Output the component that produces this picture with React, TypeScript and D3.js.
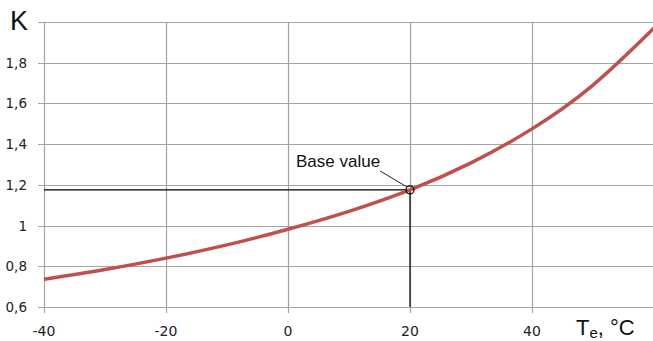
import React, { useEffect, useRef } from "react";
import * as d3 from "d3";

// curve K(Te)
const temps = [-40, -30, -20, -10, 0, 10, 20, 30, 40, 50, 60];
const kValues = [0.736, 0.784, 0.84, 0.905, 0.982, 1.07, 1.175, 1.308, 1.475, 1.69, 1.97];

const xTicks = [-40, -20, 0, 20, 40];
const yTicks = [0.6, 0.8, 1, 1.2, 1.4, 1.6, 1.8, 2];

const baseTemp = 20;
const baseK = 1.175;
const baseLabel = "Base value";

export default function App() {
  const svgRef = useRef<SVGSVGElement>(null);

  useEffect(() => {
    const svg = d3.select(svgRef.current);
    svg.selectAll("*").remove();

    const width = 653;
    const height = 341;
    const margin = { top: 22, right: 0, bottom: 34, left: 44 };

    const x = d3.scaleLinear().domain([-40, 60]).range([margin.left, 654]);
    const y = d3.scaleLinear().domain([0.6, 2]).range([height - margin.bottom, margin.top]);

    svg.attr("width", width).attr("height", height);
    svg.append("rect").attr("width", width).attr("height", height).attr("fill", "#fff");

    const gridColor = "#a3a3a3";
    const bottom = y(0.6);

    // horizontal grid + y tick marks
    svg
      .append("g")
      .selectAll("line")
      .data(yTicks)
      .enter()
      .append("line")
      .attr("x1", margin.left - 6)
      .attr("x2", width)
      .attr("y1", (d) => Math.round(y(d)) + 0.5)
      .attr("y2", (d) => Math.round(y(d)) + 0.5)
      .attr("stroke", gridColor)
      .attr("stroke-width", 1.2);

    // vertical grid + x tick marks
    svg
      .append("g")
      .selectAll("line")
      .data(xTicks)
      .enter()
      .append("line")
      .attr("x1", (d) => Math.round(x(d)) + 0.5)
      .attr("x2", (d) => Math.round(x(d)) + 0.5)
      .attr("y1", margin.top)
      .attr("y2", bottom + 6)
      .attr("stroke", gridColor)
      .attr("stroke-width", 1.2);

    // tick labels
    svg
      .append("g")
      .selectAll("text")
      .data(yTicks)
      .enter()
      .append("text")
      .attr("x", 27)
      .attr("y", (d) => y(d) + 5)
      .attr("text-anchor", "end")
      .attr("font-family", "DejaVu Sans, Verdana, sans-serif")
      .attr("font-size", 13.5)
      .attr("fill", "#222")
      .text((d) => (d === 2 ? "" : String(d).replace(".", ",")));

    svg
      .append("g")
      .selectAll("text")
      .data(xTicks)
      .enter()
      .append("text")
      .attr("x", (d) => x(d))
      .attr("y", 336)
      .attr("text-anchor", "middle")
      .attr("font-family", "DejaVu Sans, Verdana, sans-serif")
      .attr("font-size", 14)
      .attr("fill", "#222")
      .text((d) => String(d));

    // axis titles
    svg
      .append("text")
      .attr("x", 10)
      .attr("y", 30)
      .attr("font-family", "Liberation Sans, Arial, sans-serif")
      .attr("font-size", 27)
      .attr("fill", "#111")
      .text("K");

    const te = svg
      .append("text")
      .attr("x", 576)
      .attr("y", 335)
      .attr("font-family", "Liberation Sans, Arial, sans-serif")
      .attr("font-size", 22)
      .attr("fill", "#111");
    te.append("tspan").text("T");
    te.append("tspan").attr("font-size", 15).attr("dy", 3).text("e");
    te.append("tspan").attr("dy", -3).text(", °C");

    // base value guide lines
    const bx = x(baseTemp);
    const by = y(baseK);
    svg
      .append("line")
      .attr("x1", margin.left)
      .attr("x2", bx)
      .attr("y1", by)
      .attr("y2", by)
      .attr("stroke", "#000")
      .attr("stroke-width", 1.2);
    svg
      .append("line")
      .attr("x1", bx)
      .attr("x2", bx)
      .attr("y1", by)
      .attr("y2", bottom)
      .attr("stroke", "#000")
      .attr("stroke-width", 1.2);

    // the curve
    const line = d3
      .line<number>()
      .x((d, i) => x(temps[i]))
      .y((d) => y(d))
      .curve(d3.curveNatural);

    svg
      .append("path")
      .datum(kValues)
      .attr("d", line)
      .attr("fill", "none")
      .attr("stroke", "#c0504d")
      .attr("stroke-width", 3.5);

    // base value marker + callout
    svg
      .append("circle")
      .attr("cx", bx)
      .attr("cy", by)
      .attr("r", 4)
      .attr("fill", "none")
      .attr("stroke", "#000")
      .attr("stroke-width", 1.2);
    svg
      .append("line")
      .attr("x1", bx - 30)
      .attr("y1", by - 19)
      .attr("x2", bx - 3)
      .attr("y2", by - 3)
      .attr("stroke", "#222")
      .attr("stroke-width", 1);
    svg
      .append("text")
      .attr("x", 296)
      .attr("y", 167)
      .attr("font-family", "Liberation Sans, Arial, sans-serif")
      .attr("font-size", 17)
      .attr("fill", "#111")
      .text(baseLabel);
  }, []);

  return <svg ref={svgRef} style={{ position: "absolute", left: 0, top: 0 }}></svg>;
}
